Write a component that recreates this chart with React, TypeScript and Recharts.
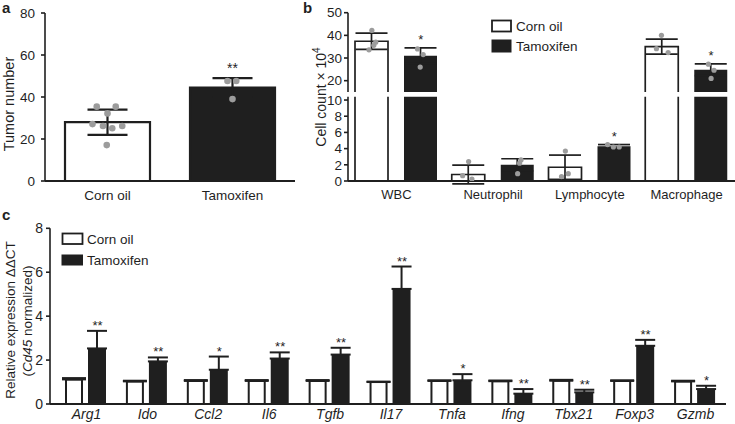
import React from "react";
import { ComposedChart, Bar, XAxis, YAxis, ErrorBar, Scatter, Cell } from "recharts";

const FONT = "'Liberation Sans', Arial, Helvetica, sans-serif";
const INK = "#1f1f1f";
const DOT = "#9c9c9c";

// ---------- Panel a ----------
const aCategories = ["Corn oil", "Tamoxifen"];
const aMeans = [28, 44.5];
const aErrors = [6, 4.5];
const aStars = ["", "**"];
const aTicks = [0, 20, 40, 60, 80];
const aDotValues = [
  [35.4, 35.4, 32.2, 27.1, 26.2, 25.1, 26.2, 17.1],
  [47.6, 47.6, 39],
];
const aDotJitter = [
  [-0.086, 0.066, 0, -0.12, -0.036, 0.038, 0.118, -0.006],
  [-0.04, 0.03, 0],
];

// ---------- Panel b ----------
const bCategories = ["WBC", "Neutrophil", "Lymphocyte", "Macrophage"];
const bCornMeans = [37.4, 0.8, 1.7, 35];
const bCornErrors = [3.6, 1.15, 1.5, 3.3];
const bTamMeans = [31, 2.0, 4.3, 24.8];
const bTamErrors = [3.5, 0.75, 0.2, 2.6];
const bTamStars = ["*", "", "*", "*"];
const bUpperTicks = [20, 30, 40, 50];
const bLowerTicks = [0, 2, 4, 6, 8, 10];
const bCornDots = [[42.2, 37, 35.6, 33.6], [2.4, 0.66, 0.25], [3.7, 0.9, 0.55], [40, 34.1, 32.4]];
const bCornJitter = [[0, 0.04, 0.02, -0.03], [0, -0.062, 0.034], [0, 0.03, -0.04], [-0.007, -0.059, 0.062]];
const bTamDots = [[34, 31.5, 26], [2.6, 2.2, 0.9], [4.5, 4.2, 4.2], [27.3, 24.6, 21]];
const bTamJitter = [[-0.035, 0.024, -0.007], [0.035, 0.02, 0], [-0.07, -0.01, 0.05], [-0.028, 0.03, 0]];

// ---------- Panel c ----------
const cGenes = ["Arg1", "Ido", "Ccl2", "Il6", "Tgfb", "Il17", "Tnfa", "Ifng", "Tbx21", "Foxp3", "Gzmb"];
const cCornMeans = [1.12, 1.03, 1.05, 1.05, 1.05, 1.0, 1.05, 1.04, 1.06, 1.05, 1.03];
const cCornErrors = [0.06, 0.03, 0.04, 0.04, 0.04, 0.02, 0.03, 0.03, 0.04, 0.03, 0.03];
const cTamMeans = [2.53, 1.94, 1.56, 2.07, 2.25, 5.24, 1.08, 0.47, 0.53, 2.65, 0.68];
const cTamErrors = [0.8, 0.18, 0.6, 0.28, 0.31, 1.02, 0.28, 0.21, 0.12, 0.27, 0.15];
const cTamStars = ["**", "**", "*", "**", "**", "**", "*", "**", "**", "**", "*"];
const cTicks = [0, 2, 4, 6, 8];

// ---------- layout constants ----------
const B_PLOT_W = 387;
const B_BAR = 33;
const B_GAP = 16;
const B_OFF = (B_BAR + B_GAP) / 2 / (B_PLOT_W / bCategories.length);
const C_PLOT_W = 670;
const C_CORN_BAR = 16;
const C_TAM_BAR = 18;
const C_GAP = 6;
const C_OFF = ((C_CORN_BAR + C_GAP + C_TAM_BAR) / 2 - C_TAM_BAR / 2) / (C_PLOT_W / cGenes.length);

const axisStyle = { stroke: INK, strokeWidth: 1.6 };
const tickStyle = (size: number, italic = false) => ({
  fill: INK,
  fontSize: size,
  fontFamily: FONT,
  fontStyle: italic ? "italic" : "normal",
});

const dotShape = (r: number) => (p: any) =>
  p.cx == null ? <g /> : <circle cx={p.cx} cy={p.cy} r={r} fill={DOT} />;
const starShape = (dy: number, size: number) => (p: any) =>
  p.cx == null ? (
    <g />
  ) : (
    <text x={p.cx} y={p.cy - dy} textAnchor="middle" fontSize={size} fill={INK} fontFamily={FONT}>
      {p.payload.s}
    </text>
  );

const OpenBottomWhiteBar = (p: any) => {
  const { x, y, width, height } = p;
  if (x == null || height == null || height <= 0) return <g />;
  return (
    <g>
      <rect x={x} y={y} width={width} height={height} fill="#fff" />
      <path
        d={`M${x},${y + height}V${y}H${x + width}V${y + height}`}
        fill="none"
        stroke={INK}
        strokeWidth={1.7}
      />
    </g>
  );
};

// ---------- data assembly ----------
const aData = aCategories.map((name, i) => ({ name, value: aMeans[i], err: aErrors[i] }));
const aDots = aDotValues.flatMap((vals, i) => vals.map((y, k) => ({ x: i + aDotJitter[i][k], y })));
const aStarData = aCategories
  .map((_, i) => ({ x: i, y: aMeans[i] + aErrors[i], s: aStars[i] }))
  .filter((d) => d.s);

const B_UPPER_MIN = 15;
const B_LOWER_MAX = 10.4;
const bData = bCategories.map((name, i) => ({
  name,
  corn: bCornMeans[i],
  cornErr: bCornErrors[i],
  tam: bTamMeans[i],
  tamErr: bTamErrors[i],
}));
const bUpperData = bData.map((d) => ({
  name: d.name,
  corn: d.corn >= B_UPPER_MIN ? d.corn : null,
  cornErr: d.corn >= B_UPPER_MIN ? d.cornErr : null,
  tam: d.tam >= B_UPPER_MIN ? d.tam : null,
  tamErr: d.tam >= B_UPPER_MIN ? d.tamErr : null,
}));
const bLowerData = bData.map((d) => ({
  name: d.name,
  corn: d.corn,
  cornErr: d.corn <= B_LOWER_MAX ? d.cornErr : null,
  tam: d.tam,
  tamErr: d.tam <= B_LOWER_MAX ? d.tamErr : null,
}));
const bAllDots = [
  ...bCornDots.flatMap((vals, i) => vals.map((y, k) => ({ x: i - B_OFF + bCornJitter[i][k], y }))),
  ...bTamDots.flatMap((vals, i) => vals.map((y, k) => ({ x: i + B_OFF + bTamJitter[i][k], y }))),
];
const bAllStars = bCategories
  .map((_, i) => ({ x: i + B_OFF, y: bTamMeans[i] + bTamErrors[i], s: bTamStars[i] }))
  .filter((d) => d.s);

const cData = cGenes.map((name, i) => ({
  name,
  corn: cCornMeans[i],
  cornErr: [0, cCornErrors[i]],
  tam: cTamMeans[i],
  tamErr: [0, cTamErrors[i]],
}));
const cStarData = cGenes.map((_, i) => ({ x: i + C_OFF, y: cTamMeans[i] + cTamErrors[i], s: cTamStars[i] }));

function PanelA() {
  return (
    <ComposedChart width={300} height={210} data={aData} margin={{ top: 13, right: 5, bottom: 0, left: 0 }}>
      <XAxis
        xAxisId="c"
        dataKey="name"
        type="category"
        height={29}
        tickLine={false}
        tickSize={6}
        tickMargin={3}
        axisLine={{ stroke: INK, strokeWidth: 2 }}
        tick={tickStyle(13.5)}
        interval={0}
      />
      <YAxis
        yAxisId="v"
        type="number"
        domain={[0, 80]}
        ticks={aTicks}
        width={45}
        tickSize={4}
        tickMargin={6}
        axisLine={axisStyle}
        tickLine={axisStyle}
        tick={tickStyle(13.5)}
        interval={0}
      />
      <XAxis xAxisId="p" dataKey="x" type="number" orientation="top" height={0} domain={[-0.5, 1.5]} allowDataOverflow hide />
      <YAxis yAxisId="p" dataKey="y" type="number" orientation="right" width={0} domain={[0, 80]} allowDataOverflow hide />
      <Bar xAxisId="c" yAxisId="v" dataKey="value" barSize={85} stroke={INK} strokeWidth={2.2} isAnimationActive={false}>
        {aData.map((d, i) => (
          <Cell key={d.name} fill={i === 0 ? "#ffffff" : INK} />
        ))}
        <ErrorBar dataKey="err" width={20} stroke={INK} strokeWidth={2.2} isAnimationActive={false} />
      </Bar>
      <Scatter xAxisId="p" yAxisId="p" data={aDots} shape={dotShape(3.3)} isAnimationActive={false} />
      <Scatter xAxisId="p" yAxisId="p" data={aStarData} shape={starShape(5, 14)} isAnimationActive={false} />
    </ComposedChart>
  );
}

function PanelBUpper() {
  const dots = bAllDots.filter((d) => d.y >= B_UPPER_MIN);
  const stars = bAllStars.filter((d) => d.y >= B_UPPER_MIN);
  return (
    <ComposedChart
      width={445}
      height={92}
      data={bUpperData}
      barGap={B_GAP}
      margin={{ top: 12.7, right: 0, bottom: 0, left: 0 }}
    >
      <XAxis xAxisId="c" dataKey="name" type="category" height={0} hide />
      <YAxis
        yAxisId="v"
        type="number"
        domain={[B_UPPER_MIN, 50]}
        ticks={bUpperTicks}
        allowDataOverflow
        width={58}
        tickSize={4}
        tickMargin={2}
        axisLine={axisStyle}
        tickLine={axisStyle}
        tick={tickStyle(13.5)}
        interval={0}
      />
      <XAxis xAxisId="p" dataKey="x" type="number" orientation="top" height={0} domain={[-0.5, 3.5]} allowDataOverflow hide />
      <YAxis yAxisId="p" dataKey="y" type="number" orientation="right" width={0} domain={[B_UPPER_MIN, 50]} allowDataOverflow hide />
      <Bar xAxisId="c" yAxisId="v" dataKey="corn" barSize={B_BAR} shape={OpenBottomWhiteBar} isAnimationActive={false}>
        <ErrorBar dataKey="cornErr" width={16} stroke={INK} strokeWidth={1.7} isAnimationActive={false} />
      </Bar>
      <Bar xAxisId="c" yAxisId="v" dataKey="tam" barSize={B_BAR} fill={INK} isAnimationActive={false}>
        <ErrorBar dataKey="tamErr" width={16} stroke={INK} strokeWidth={1.7} isAnimationActive={false} />
      </Bar>
      <Scatter xAxisId="p" yAxisId="p" data={dots} shape={dotShape(2.6)} isAnimationActive={false} />
      <Scatter xAxisId="p" yAxisId="p" data={stars} shape={starShape(4, 13)} isAnimationActive={false} />
    </ComposedChart>
  );
}

function PanelBLower() {
  const dots = bAllDots.filter((d) => d.y <= B_LOWER_MAX);
  const stars = bAllStars.filter((d) => d.y <= B_LOWER_MAX);
  return (
    <ComposedChart
      width={445}
      height={210}
      data={bLowerData}
      barGap={B_GAP}
      margin={{ top: 96.8, right: 0, bottom: 0, left: 0 }}
    >
      <XAxis
        xAxisId="c"
        dataKey="name"
        type="category"
        height={29}
        tickLine={false}
        tickSize={6}
        tickMargin={3}
        axisLine={{ stroke: INK, strokeWidth: 1.8 }}
        tick={tickStyle(13)}
        interval={0}
      />
      <YAxis
        yAxisId="v"
        type="number"
        domain={[0, B_LOWER_MAX]}
        ticks={bLowerTicks}
        allowDataOverflow
        width={58}
        tickSize={4}
        tickMargin={2}
        axisLine={axisStyle}
        tickLine={axisStyle}
        tick={tickStyle(13.5)}
        interval={0}
      />
      <XAxis xAxisId="p" dataKey="x" type="number" orientation="top" height={0} domain={[-0.5, 3.5]} allowDataOverflow hide />
      <YAxis yAxisId="p" dataKey="y" type="number" orientation="right" width={0} domain={[0, B_LOWER_MAX]} allowDataOverflow hide />
      <Bar xAxisId="c" yAxisId="v" dataKey="corn" barSize={B_BAR} fill="#ffffff" stroke={INK} strokeWidth={1.7} isAnimationActive={false}>
        <ErrorBar dataKey="cornErr" width={16} stroke={INK} strokeWidth={1.7} isAnimationActive={false} />
      </Bar>
      <Bar xAxisId="c" yAxisId="v" dataKey="tam" barSize={B_BAR} fill={INK} isAnimationActive={false}>
        <ErrorBar dataKey="tamErr" width={16} stroke={INK} strokeWidth={1.7} isAnimationActive={false} />
      </Bar>
      <Scatter xAxisId="p" yAxisId="p" data={dots} shape={dotShape(2.6)} isAnimationActive={false} />
      <Scatter xAxisId="p" yAxisId="p" data={stars} shape={starShape(4, 13)} isAnimationActive={false} />
    </ComposedChart>
  );
}

function PanelC() {
  return (
    <ComposedChart
      width={735}
      height={224}
      data={cData}
      barGap={C_GAP}
      margin={{ top: 28.3, right: 9, bottom: 0, left: 0 }}
    >
      <XAxis
        xAxisId="c"
        dataKey="name"
        type="category"
        height={20}
        padding={{ left: 6, right: 0 }}
        tickLine={false}
        tickSize={3}
        tickMargin={2}
        axisLine={{ stroke: INK, strokeWidth: 2 }}
        tick={tickStyle(14, true)}
        interval={0}
      />
      <YAxis
        yAxisId="v"
        type="number"
        domain={[0, 8]}
        ticks={cTicks}
        width={50}
        tickSize={4}
        tickMargin={3}
        axisLine={axisStyle}
        tickLine={axisStyle}
        tick={tickStyle(14)}
        interval={0}
      />
      <XAxis
        xAxisId="p"
        dataKey="x"
        type="number"
        orientation="top"
        height={0}
        padding={{ left: 6, right: 0 }}
        domain={[-0.5, cGenes.length - 0.5]}
        allowDataOverflow
        hide
      />
      <YAxis yAxisId="p" dataKey="y" type="number" orientation="right" width={0} domain={[0, 8]} allowDataOverflow hide />
      <Bar xAxisId="c" yAxisId="v" dataKey="corn" barSize={C_CORN_BAR} fill="#ffffff" stroke={INK} strokeWidth={2} isAnimationActive={false}>
        <ErrorBar dataKey="cornErr" width={12} stroke={INK} strokeWidth={2} isAnimationActive={false} />
      </Bar>
      <Bar xAxisId="c" yAxisId="v" dataKey="tam" barSize={C_TAM_BAR} fill={INK} isAnimationActive={false}>
        <ErrorBar dataKey="tamErr" width={10} stroke={INK} strokeWidth={2} isAnimationActive={false} />
      </Bar>
      <Scatter xAxisId="p" yAxisId="p" data={cStarData} shape={starShape(1, 13)} isAnimationActive={false} />
    </ComposedChart>
  );
}

function Overlay() {
  return (
    <svg
      width={735}
      height={424}
      style={{ position: "absolute", left: 0, top: 0, pointerEvents: "none" }}
      fontFamily={FONT}
      fill={INK}
    >
      <text x={2} y={13} fontWeight="bold" fontSize={15}>a</text>
      <text x={303} y={13} fontWeight="bold" fontSize={15}>b</text>
      <text x={2} y={220} fontWeight="bold" fontSize={15}>c</text>

      <text transform="translate(14,104) rotate(-90)" textAnchor="middle" fontSize={14.5}>Tumor number</text>
      <text transform="translate(326,97) rotate(-90)" textAnchor="middle" fontSize={14}>
        Cell count × 10<tspan dy={-6} fontSize={10}>4</tspan>
      </text>
      <text transform="translate(15,320) rotate(-90)" textAnchor="middle" fontSize={13.5}>
        Relative expression ΔΔCT
      </text>
      <text transform="translate(32,321) rotate(-90)" textAnchor="middle" fontSize={13.5}>
        (<tspan fontStyle="italic">Cd45</tspan> normalized)
      </text>

      {/* legend b */}
      <rect x={492} y={20.5} width={19} height={11} fill="#fff" stroke={INK} strokeWidth={1.8} />
      <text x={516} y={30.5} fontSize={13.5}>Corn oil</text>
      <rect x={491.5} y={39.5} width={20} height={13} fill={INK} />
      <text x={516} y={50.7} fontSize={13.5}>Tamoxifen</text>

      {/* legend c */}
      <rect x={62.5} y={233.5} width={20} height={10.5} fill="#fff" stroke={INK} strokeWidth={1.8} />
      <text x={87} y={243.5} fontSize={13.5}>Corn oil</text>
      <rect x={61.5} y={254.5} width={21.5} height={11} fill={INK} />
      <text x={87} y={265} fontSize={13.5}>Tamoxifen</text>
    </svg>
  );
}

export default function App() {
  return (
    <div style={{ position: "absolute", left: 0, top: 0, width: 735, height: 424, background: "#fff", fontFamily: FONT }}>
      <div style={{ position: "absolute", left: 0, top: 0 }}>
        <PanelA />
      </div>
      <div style={{ position: "absolute", left: 290, top: 0 }}>
        <PanelBUpper />
      </div>
      <div style={{ position: "absolute", left: 290, top: 0 }}>
        <PanelBLower />
      </div>
      <div style={{ position: "absolute", left: 0, top: 200 }}>
        <PanelC />
      </div>
      <Overlay />
    </div>
  );
}
